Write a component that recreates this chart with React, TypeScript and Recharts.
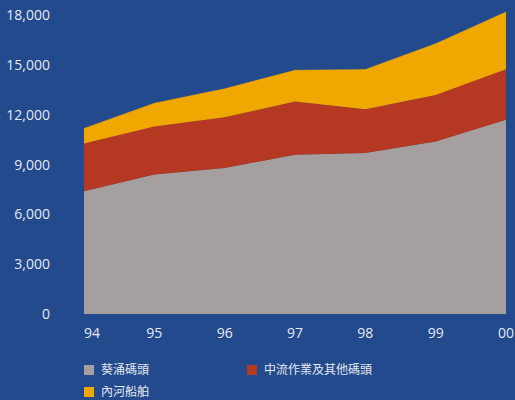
import { AreaChart, Area, XAxis, YAxis } from "recharts";

const years = ["94", "95", "96", "97", "98", "99", "00"];
const kwaiChung = [7400, 8400, 8800, 9600, 9700, 10400, 11700];
const midStream = [2870, 2900, 3050, 3200, 2640, 2800, 3050];
const riverTrade = [910, 1400, 1720, 1890, 2390, 3090, 3450];
const yTicks = [0, 3000, 6000, 9000, 12000, 15000, 18000];

const SERIES = [
  { key: "kwaiChung", name: "葵涌碼頭", color: "#a5a09f" },
  { key: "midStream", name: "中流作業及其他碼頭", color: "#b53823" },
  { key: "riverTrade", name: "內河船舶", color: "#f0a800" },
];

const data = years.map((year, i) => ({
  year,
  kwaiChung: kwaiChung[i],
  midStream: midStream[i],
  riverTrade: riverTrade[i],
}));

const BG = "#234a8c";
const TEXT = "#e4e8f0";
const FONT = "'Open Sans', 'Noto Sans CJK TC', sans-serif";

// first label sits right of the first point, like the original
function XTick({ x, y, payload, index }: any) {
  const first = index === 0;
  return (
    <text
      x={x}
      y={y}
      dy="0.71em"
      textAnchor={first ? "start" : "middle"}
      fill={TEXT}
      fontSize={14}
      fontFamily={FONT}
    >
      {payload.value}
    </text>
  );
}

function ChartLegend() {
  const item = (s: (typeof SERIES)[number], left: number, top: number) => (
    <div
      key={s.key}
      style={{ position: "absolute", left, top, display: "flex", alignItems: "center" }}
    >
      <div style={{ width: 10, height: 10, background: s.color, marginRight: 7 }} />
      <span style={{ color: TEXT, fontSize: 12, fontFamily: FONT, lineHeight: "14px" }}>
        {s.name}
      </span>
    </div>
  );
  return (
    <div style={{ position: "absolute", left: 0, top: 363, width: 515, height: 37 }}>
      {item(SERIES[0], 84, 0)}
      {item(SERIES[1], 247, 0)}
      {item(SERIES[2], 84, 22)}
    </div>
  );
}

export default function App() {
  return (
    <div style={{ position: "fixed", left: 0, top: 0, width: 515, height: 400, background: BG }}>
      <AreaChart
        width={515}
        height={400}
        data={data}
        margin={{ top: 12, right: 9, left: 0, bottom: 56 }}
      >
        <XAxis
          dataKey="year"
          axisLine={false}
          tickLine={false}
          tickSize={0}
          tickMargin={14}
          height={30}
          interval={0}
          tick={<XTick />}
        />
        <YAxis
          domain={[0, 18000]}
          ticks={yTicks}
          width={84}
          axisLine={false}
          tickLine={false}
          tickSize={0}
          tickMargin={34}
          tickFormatter={(v: number) => v.toLocaleString("en-US")}
          tick={{ fill: TEXT, fontSize: 14, fontFamily: FONT }}
        />
        {SERIES.map((s) => (
          <Area
            key={s.key}
            type="linear"
            dataKey={s.key}
            name={s.name}
            stackId="1"
            stroke={s.color}
            strokeWidth={0.5}
            fill={s.color}
            fillOpacity={1}
            isAnimationActive={false}
          />
        ))}
      </AreaChart>
      <ChartLegend />
    </div>
  );
}
